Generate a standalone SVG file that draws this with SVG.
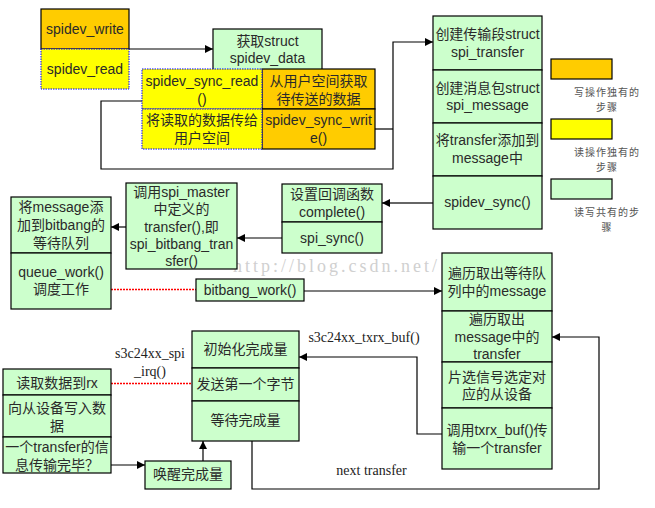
<svg xmlns="http://www.w3.org/2000/svg" width="655" height="508" viewBox="0 0 655 508">
<style>
.g{fill:#CCFFCC;stroke:#000;stroke-width:1.2}
.o{fill:#FFCC00;stroke:#000;stroke-width:1.2}
.y{fill:#FFFF00;stroke:#0000FF;stroke-width:1;stroke-dasharray:1.5 1}
.t{font-family:"Liberation Sans","Noto Sans CJK SC",sans-serif;font-size:14px;fill:#2a2a2a;text-anchor:middle}
.s{font-family:"Liberation Serif","Noto Sans CJK SC",serif;font-size:14px;fill:#222;text-anchor:middle}
.l{font-family:"Noto Sans CJK SC",sans-serif;font-size:10px;letter-spacing:1px;fill:#555;text-anchor:middle}
.c{fill:none;stroke:#000;stroke-width:1.2}
.cg{fill:none;stroke:#666;stroke-width:2}
.r{fill:none;stroke:#FF0000;stroke-width:1.5;stroke-dasharray:2 1}
</style>
<defs>
<marker id="a" viewBox="0 0 10 10" refX="10" refY="5" markerWidth="8" markerHeight="8" markerUnits="userSpaceOnUse" orient="auto"><path d="M0,0L10,5L0,10z" fill="#000"/></marker>
</defs>
<rect width="655" height="508" fill="#fff"/>
<text x="335" y="272" font-family="Liberation Serif,serif" font-size="18" fill="#d0d0d0" text-anchor="middle" textLength="204" lengthAdjust="spacing">http://blog.csdn.net/</text>

<g id="connectors">
<path class="c" d="M129,49H213" marker-end="url(#a)"/>
<path class="c" d="M142,101H101V169H393V42H433" marker-end="url(#a)"/>
<path class="c" d="M375,129H393"/>
<path class="cg" d="M433,203H382" marker-end="url(#a)"/>
<path class="c" d="M282,238H237" marker-end="url(#a)"/>
<path class="c" d="M126,227H111" marker-end="url(#a)"/>
<path class="r" d="M111,289.5H196"/>
<path class="c" d="M304,291H442" marker-end="url(#a)"/>
<path class="c" d="M442,434H417V357H299" marker-end="url(#a)"/>
<path class="c" d="M252,441V489H599V337H552" marker-end="url(#a)"/>
<path class="r" d="M111,383.5H192"/>
<path class="c" d="M111,465H145" marker-end="url(#a)"/>
<path class="c" d="M203,461V441" marker-end="url(#a)"/>
</g>

<g id="spidev_write">
<rect class="o" x="41" y="9" width="88" height="40"/>
<text class="t" x="85" y="34">spidev_write</text>
</g>
<g id="spidev_read">
<rect class="y" x="41" y="49" width="88" height="40"/>
<text class="t" x="85" y="74">spidev_read</text>
</g>
<g id="get_spidev_data">
<rect class="g" x="213" y="29" width="109" height="50"/>
<text class="t" x="267.5" y="46">获取struct</text>
<text class="t" x="267.5" y="63">spidev_data</text>
</g>
<g id="get_from_user">
<rect class="o" x="262" y="69" width="113" height="40"/>
<text class="t" x="318.5" y="86">从用户空间获取</text>
<text class="t" x="318.5" y="104">待传送的数据</text>
</g>
<g id="spidev_sync_write">
<rect class="o" x="262" y="109" width="113" height="40"/>
<text class="t" x="318.5" y="125">spidev_sync_writ</text>
<text class="t" x="318.5" y="143">e()</text>
</g>
<g id="spidev_sync_read">
<rect class="y" x="142" y="69" width="120" height="40"/>
<text class="t" x="202" y="86">spidev_sync_read</text>
<text class="t" x="202" y="104">()</text>
</g>
<g id="pass_to_user">
<rect class="y" x="142" y="109" width="120" height="40"/>
<text class="t" x="202" y="125">将读取的数据传给</text>
<text class="t" x="202" y="143">用户空间</text>
</g>

<g id="create_transfer">
<rect class="g" x="433" y="16" width="109" height="54"/>
<text class="t" x="487.5" y="39">创建传输段struct</text>
<text class="t" x="487.5" y="57">spi_transfer</text>
</g>
<g id="create_message">
<rect class="g" x="433" y="70" width="109" height="53"/>
<text class="t" x="487.5" y="93">创建消息包struct</text>
<text class="t" x="487.5" y="110">spi_message</text>
</g>
<g id="add_transfer">
<rect class="g" x="433" y="123" width="109" height="53"/>
<text class="t" x="487.5" y="145">将transfer添加到</text>
<text class="t" x="487.5" y="163">message中</text>
</g>
<g id="spidev_sync">
<rect class="g" x="433" y="176" width="109" height="53"/>
<text class="t" x="487.5" y="207">spidev_sync()</text>
</g>

<g id="legend_write">
<rect class="o" x="551" y="59" width="61" height="20"/>
<text class="l" x="607" y="96">写操作独有的</text>
<text class="l" x="607" y="111">步骤</text>
</g>
<g id="legend_read">
<rect x="551" y="119" width="61" height="20" fill="#FFFF00" stroke="#000" stroke-width="1.2"/>
<text class="l" x="607" y="156">读操作独有的</text>
<text class="l" x="607" y="171">步骤</text>
</g>
<g id="legend_common">
<rect class="g" x="551" y="179" width="61" height="20"/>
<text class="l" x="607" y="216">读写共有的步</text>
<text class="l" x="607" y="231">骤</text>
</g>

<g id="set_complete">
<rect class="g" x="282" y="184" width="100" height="38"/>
<text class="t" x="332" y="199">设置回调函数</text>
<text class="t" x="332" y="217">complete()</text>
</g>
<g id="spi_sync">
<rect class="g" x="282" y="222" width="100" height="31"/>
<text class="t" x="332" y="243">spi_sync()</text>
</g>
<g id="call_transfer">
<rect class="g" x="126" y="183" width="111" height="86"/>
<text class="t" x="181.5" y="197">调用spi_master</text>
<text class="t" x="181.5" y="214">中定义的</text>
<text class="t" x="181.5" y="232">transfer(),即</text>
<text class="t" x="181.5" y="249">spi_bitbang_tran</text>
<text class="t" x="181.5" y="266">sfer()</text>
</g>
<g id="add_queue">
<rect class="g" x="11" y="197" width="100" height="56"/>
<text class="t" x="61" y="212">将message添</text>
<text class="t" x="61" y="230">加到bitbang的</text>
<text class="t" x="61" y="248">等待队列</text>
</g>
<g id="queue_work">
<rect class="g" x="11" y="253" width="100" height="56"/>
<text class="t" x="61" y="277">queue_work()</text>
<text class="t" x="61" y="294">调度工作</text>
</g>
<g id="bitbang_work">
<rect class="g" x="196" y="279" width="108" height="22"/>
<text class="t" x="250" y="295">bitbang_work()</text>
</g>

<g id="get_message">
<rect class="g" x="442" y="253" width="110" height="58"/>
<text class="t" x="497" y="278">遍历取出等待队</text>
<text class="t" x="497" y="296">列中的message</text>
</g>
<g id="get_transfer">
<rect class="g" x="442" y="311" width="110" height="51"/>
<text class="t" x="497" y="324">遍历取出</text>
<text class="t" x="497" y="342">message中的</text>
<text class="t" x="497" y="359">transfer</text>
</g>
<g id="chip_select">
<rect class="g" x="442" y="362" width="110" height="46"/>
<text class="t" x="497" y="382">片选信号选定对</text>
<text class="t" x="497" y="399">应的从设备</text>
</g>
<g id="call_txrx">
<rect class="g" x="442" y="408" width="110" height="61"/>
<text class="t" x="497" y="435">调用txrx_buf()传</text>
<text class="t" x="497" y="453">输一个transfer</text>
</g>

<g id="init_completion">
<rect class="g" x="192" y="331" width="107" height="37"/>
<text class="t" x="245.5" y="354">初始化完成量</text>
</g>
<g id="send_first">
<rect class="g" x="192" y="368" width="107" height="33"/>
<text class="t" x="245.5" y="389">发送第一个字节</text>
</g>
<g id="wait_completion">
<rect class="g" x="192" y="401" width="107" height="40"/>
<text class="t" x="245.5" y="425">等待完成量</text>
</g>

<g id="read_rx">
<rect class="g" x="3" y="369" width="108" height="26"/>
<text class="t" x="57" y="388">读取数据到rx</text>
</g>
<g id="write_slave">
<rect class="g" x="3" y="395" width="108" height="42"/>
<text class="t" x="57" y="413">向从设备写入数</text>
<text class="t" x="57" y="431">据</text>
</g>
<g id="transfer_done">
<rect class="g" x="3" y="437" width="108" height="36"/>
<text class="t" x="57" y="452">一个transfer的信</text>
<text class="t" x="57" y="470">息传输完毕？</text>
</g>
<g id="wake_completion">
<rect class="g" x="145" y="461" width="86" height="28"/>
<text class="t" x="188" y="479">唤醒完成量</text>
</g>

<g id="labels">
<text class="s" x="150" y="358">s3c24xx_spi</text>
<text class="s" x="150" y="376">_irq()</text>
<text class="s" x="364" y="342">s3c24xx_txrx_buf()</text>
<text class="s" x="371.5" y="475">next transfer</text>
</g>
</svg>
